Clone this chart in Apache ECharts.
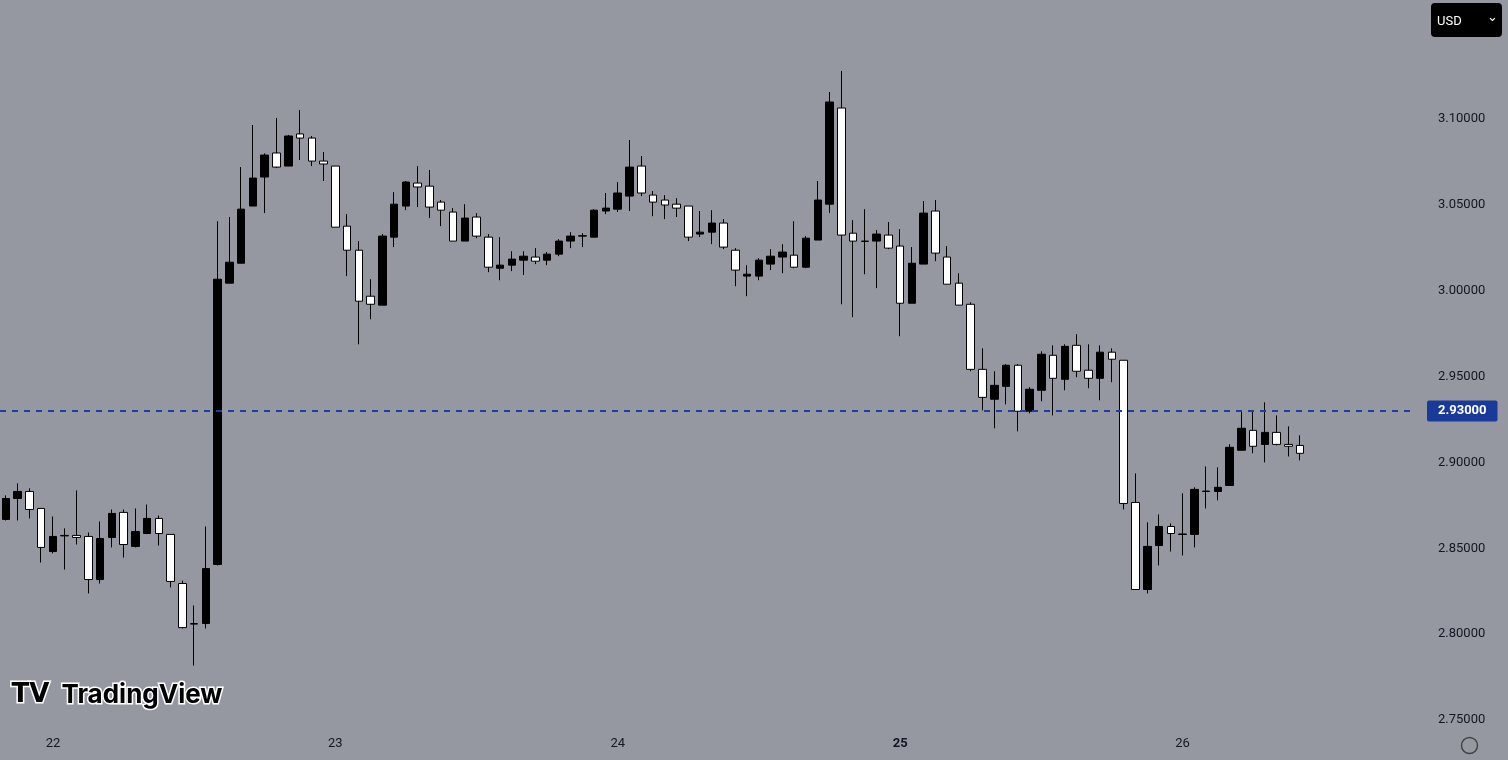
<!DOCTYPE html>
<html><head><meta charset="utf-8">
<script src="https://cdn.jsdelivr.net/npm/echarts@6/dist/echarts.min.js"></script>
<style>html,body{margin:0;padding:0;background:#9598a1;}#c{width:1508px;height:760px;}</style>
</head><body><div id="c"></div>
<script>
// [open, close, low, high], hourly candles
const candles = [
[2.8668,2.8790,2.8662,2.8808],[2.8790,2.8831,2.8662,2.8878],[2.8831,2.8726,2.8674,2.8849],[2.8732,2.8505,2.8417,2.8732],
[2.8481,2.8569,2.8470,2.8685],[2.8575,2.8572,2.8376,2.8616],[2.8575,2.8563,2.8522,2.8837],[2.8569,2.8318,2.8237,2.8592],
[2.8318,2.8557,2.8295,2.8656],[2.8563,2.8703,2.8505,2.8726],[2.8709,2.8522,2.8446,2.8726],[2.8511,2.8598,2.8505,2.8732],
[2.8586,2.8674,2.8586,2.8755],[2.8674,2.8586,2.8516,2.8691],[2.8581,2.8307,2.8272,2.8581],[2.8295,2.8038,2.8033,2.8312],
[2.8062,2.8058,2.7817,2.8167],[2.8062,2.8382,2.8033,2.8627],[2.8406,3.0067,2.8400,3.0405],[3.0044,3.0166,3.0044,3.0429],
[3.0160,3.0475,3.0160,3.0720],[3.0493,3.0656,3.0493,3.0965],[3.0662,3.0790,3.0452,3.0800],[3.0802,3.0720,3.0714,3.1006],
[3.0726,3.0901,3.0726,3.0907],[3.0913,3.0889,3.0761,3.1052],[3.0889,3.0755,3.0726,3.0901],[3.0755,3.0738,3.0639,3.0808],
[3.0726,3.0370,3.0370,3.0726],[3.0376,3.0236,3.0085,3.0446],[3.0236,2.9939,2.9688,3.0289],[2.9968,2.9921,2.9834,3.0067],
[2.9916,3.0318,2.9916,3.0330],[3.0312,3.0504,3.0254,3.0574],[3.0493,3.0633,3.0469,3.0639],[3.0627,3.0604,3.0487,3.0726],
[3.0609,3.0487,3.0423,3.0703],[3.0516,3.0469,3.0376,3.0528],[3.0458,3.0289,3.0289,3.0481],[3.0289,3.0423,3.0289,3.0504],
[3.0429,3.0318,3.0306,3.0452],[3.0312,3.0137,3.0108,3.0330],[3.0131,3.0149,3.0061,3.0312],[3.0149,3.0184,3.0114,3.0230],
[3.0178,3.0201,3.0091,3.0230],[3.0196,3.0172,3.0155,3.0248],[3.0178,3.0213,3.0149,3.0225],[3.0213,3.0289,3.0201,3.0300],
[3.0289,3.0318,3.0248,3.0341],[3.0318,3.0320,3.0254,3.0335],[3.0312,3.0469,3.0312,3.0475],[3.0464,3.0481,3.0446,3.0569],
[3.0475,3.0569,3.0458,3.0633],[3.0551,3.0720,3.0464,3.0878],[3.0726,3.0569,3.0551,3.0784],[3.0557,3.0516,3.0434,3.0580],
[3.0528,3.0499,3.0417,3.0557],[3.0504,3.0481,3.0429,3.0539],[3.0493,3.0312,3.0289,3.0493],[3.0330,3.0341,3.0312,3.0464],
[3.0341,3.0394,3.0271,3.0469],[3.0394,3.0254,3.0242,3.0417],[3.0236,3.0120,3.0026,3.0248],[3.0085,3.0096,2.9968,3.0149],
[3.0085,3.0178,3.0061,3.0190],[3.0155,3.0201,3.0120,3.0242],[3.0196,3.0225,3.0102,3.0271],[3.0207,3.0137,3.0131,3.0405],
[3.0137,3.0306,3.0131,3.0318],[3.0295,3.0528,3.0295,3.0639],[3.0504,3.1099,3.0452,3.1157],[3.1064,3.0324,2.9921,3.1280],
[3.0335,3.0289,2.9846,3.0411],[3.0289,3.0287,3.0096,3.0475],[3.0289,3.0330,3.0015,3.0353],[3.0324,3.0248,3.0242,3.0400],
[3.0260,2.9927,2.9735,3.0359],[2.9927,3.0160,2.9927,3.0254],[3.0155,3.0452,3.0155,3.0522],[3.0464,3.0219,3.0172,3.0528],
[3.0196,3.0038,3.0038,3.0260],[3.0044,2.9916,2.9916,3.0102],[2.9921,2.9542,2.9531,2.9933],[2.9542,2.9379,2.9303,2.9665],
[2.9368,2.9449,2.9199,2.9531],[2.9443,2.9566,2.9338,2.9572],[2.9566,2.9298,2.9181,2.9572],[2.9298,2.9426,2.9286,2.9438],
[2.9420,2.9630,2.9356,2.9647],[2.9624,2.9490,2.9274,2.9682],[2.9484,2.9676,2.9420,2.9688],[2.9682,2.9531,2.9496,2.9747],
[2.9537,2.9490,2.9432,2.9688],[2.9490,2.9642,2.9362,2.9682],[2.9642,2.9601,2.9467,2.9665],[2.9595,2.8761,2.8726,2.9595],
[2.8767,2.8260,2.8260,2.8936],[2.8260,2.8511,2.8237,2.8651],[2.8516,2.8627,2.8400,2.8697],[2.8627,2.8586,2.8481,2.8645],
[2.8581,2.8583,2.8458,2.8820],[2.8581,2.8843,2.8505,2.8855],[2.8831,2.8833,2.8732,2.8977],[2.8831,2.8855,2.8779,2.8971],
[2.8866,2.9088,2.8866,2.9106],[2.9071,2.9199,2.9071,2.9297],[2.9187,2.9094,2.9053,2.9297],[2.9105,2.9175,2.9000,2.9350],
[2.9175,2.9105,2.9099,2.9274],[2.9105,2.9094,2.9035,2.9210],[2.9099,2.9053,2.9012,2.9158]
];
const dayTicks = {4:'22',28:'23',52:'24',76:'25',100:'26'};
const boldDay = '25';
const lastPrice = 2.93;
const yTicks = [2.75,2.80,2.85,2.90,2.95,3.00,3.05,3.10];
const emptySlots = 9;

const categories = [];
for (let i = 0; i < candles.length + emptySlots; i++) categories.push(dayTicks[i] || ('h' + i));

const chart = echarts.init(document.getElementById('c'));
chart.setOption({
  backgroundColor: '#9598a1',
  animation: false,
  grid: {left: -10, right: 96, top: 0, bottom: 40},
  xAxis: {
    type: 'category', data: categories, boundaryGap: true,
    axisLine: {show: false}, axisTick: {show: false}, splitLine: {show: false},
    axisLabel: {
      interval: (i) => dayTicks[i] !== undefined, margin: 17,
      color: '#131722', fontSize: 13, fontFamily: 'Roboto, sans-serif',
      formatter: (v) => v === boldDay ? '{b|' + v + '}' : v,
      rich: {b: {fontWeight: 'bold', color: '#131722', fontSize: 13, fontFamily: 'Roboto, sans-serif'}}
    }
  },
  yAxis: {
    type: 'value', position: 'right', min: 2.75, max: 3.1693, interval: 0.05, scale: true,
    axisLine: {show: false}, axisTick: {show: false}, splitLine: {show: false},
    axisLabel: {
      margin: 26, color: '#131722', fontSize: 13, fontFamily: 'Roboto, sans-serif', showMaxLabel: false,
      formatter: (v) => yTicks.some(t => Math.abs(t - v) < 1e-6) ? v.toFixed(5) : ''
    }
  },
  series: [{
    type: 'candlestick', data: candles, barWidth: 8,
    itemStyle: {color: '#000000', color0: '#ffffff', borderColor: '#000000', borderColor0: '#000000', borderWidth: 1},
    markLine: {
      symbol: 'none', silent: true,
      lineStyle: {type: [6, 6], color: '#1c3f9e', width: 2},
      label: {position: 'end', formatter: lastPrice.toFixed(5), color: '#fff', fontSize: 13, fontWeight: 'bold',
        backgroundColor: '#1a3a9a', padding: [4, 11, 4, 11], borderRadius: 2, distance: 15, fontFamily: 'Roboto, sans-serif'},
      data: [{yAxis: lastPrice}]
    }
  }],
  graphic: [
    {type: 'rect', right: 6, top: 3, shape: {width: 71, height: 34, r: 4}, style: {fill: '#000'}},
    {type: 'text', left: 1437, top: 15, style: {text: 'USD', fill: '#fff', fontSize: 13, fontFamily: 'Roboto, sans-serif'}},
    {type: 'text', left: 1487, top: 11, style: {text: '⌄', fill: '#fff', fontSize: 13}},
    {type: 'text', left: 10, top: 681, style: {text: 'TV', fill: '#000', stroke: '#fff', lineWidth: 3, fontSize: 26, fontWeight: 'bold', fontFamily: 'DejaVu Sans'}},
    {type: 'text', left: 60, top: 681, style: {text: 'TradingView', fill: '#000', stroke: '#fff', lineWidth: 3, fontSize: 26, fontWeight: 'bold', fontFamily: 'Inter, Roboto, sans-serif'}},
    {type: 'circle', left: 1459, top: 735, shape: {r: 8}, style: {fill: 'none', stroke: '#444', lineWidth: 1.5}}
  ]
});
</script></body></html>
